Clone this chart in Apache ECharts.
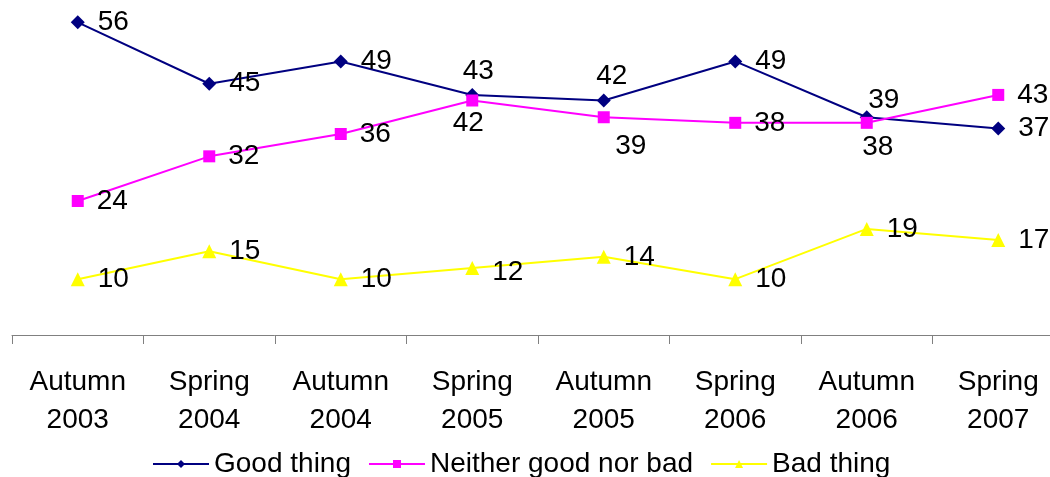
<!DOCTYPE html>
<html>
<head>
<meta charset="utf-8">
<script src="https://cdn.jsdelivr.net/npm/echarts@6/dist/echarts.min.js"></script>
<style>
  html, body {margin: 0; padding: 0; background: #fff; overflow: hidden;}
  #main {width: 1070px; height: 477px;}
</style>
</head>
<body>
<div id="main"></div>
<script>
let categories = ['Autumn\n2003', 'Spring\n2004', 'Autumn\n2004', 'Spring\n2005',
    'Autumn\n2005', 'Spring\n2006', 'Autumn\n2006', 'Spring\n2007'];
let goodThing = [56, 45, 49, 43, 42, 49, 39, 37];
let neither = [24, 32, 36, 42, 39, 38, 38, 43];
let badThing = [10, 15, 10, 12, 14, 10, 19, 17];

// labels that sit somewhere other than right of the point
let goodLabelFix = {
    3: {position: 'top', distance: 3, offset: [6, 0]},
    4: {position: 'top', distance: 3, offset: [8, 0]},
    6: {position: 'top', distance: 3, offset: [17, 7]}
};
let neitherLabelFix = {
    3: {position: 'bottom', distance: 3, offset: [-4, 0]},
    4: {position: 'bottom', distance: 3, offset: [27, 6]},
    6: {position: 'bottom', distance: 3, offset: [11, 1]}
};
let badLabelFix = {
    3: {offset: [0, 4]}
};

const font = 'Liberation Sans, Arial, sans-serif';

function withLabels(values, fix) {
    return values.map((v, i) => fix[i] ? {value: v, label: fix[i]} : v);
}

function lineSeries(name, values, fix, color, symbol, size) {
    return {
        name: name,
        type: 'line',
        data: withLabels(values, fix),
        symbol: symbol,
        symbolSize: size,
        lineStyle: {color: color, width: 2},
        itemStyle: {color: color},
        label: {
            show: true,
            position: 'right',
            distance: 13,
            color: '#000',
            fontSize: 28,
            fontFamily: font
        },
        emphasis: {disabled: true},
        animation: false
    };
}

// the plot runs a bit past the right edge of the window, so the canvas is wider
let chart = echarts.init(document.getElementById('main'));
chart.setOption({
    animation: false,
    grid: {left: 12, width: 1052, top: 0, height: 335},
    xAxis: {
        type: 'category',
        data: categories,
        boundaryGap: true,
        axisLine: {lineStyle: {color: '#808080', width: 1}},
        axisTick: {show: true, length: 9, lineStyle: {color: '#808080'}},
        axisLabel: {
            interval: 0,
            margin: 28,
            color: '#000',
            fontSize: 28,
            lineHeight: 38,
            fontFamily: font
        }
    },
    yAxis: {
        type: 'value',
        min: 0,
        max: 60,
        show: false,
        splitLine: {show: false}
    },
    legend: {
        top: 445,
        left: 147,
        itemWidth: 56,
        itemHeight: 10,
        itemGap: 17,
        textStyle: {fontSize: 28, color: '#000', fontFamily: font},
        data: ['Good thing', 'Neither good nor bad', 'Bad thing']
    },
    series: [
        lineSeries('Good thing', goodThing, goodLabelFix, '#000080', 'diamond', 14),
        lineSeries('Neither good nor bad', neither, neitherLabelFix, '#FF00FF', 'rect', 12),
        lineSeries('Bad thing', badThing, badLabelFix, '#FFFF00', 'triangle', 14)
    ]
});
</script>
</body>
</html>
